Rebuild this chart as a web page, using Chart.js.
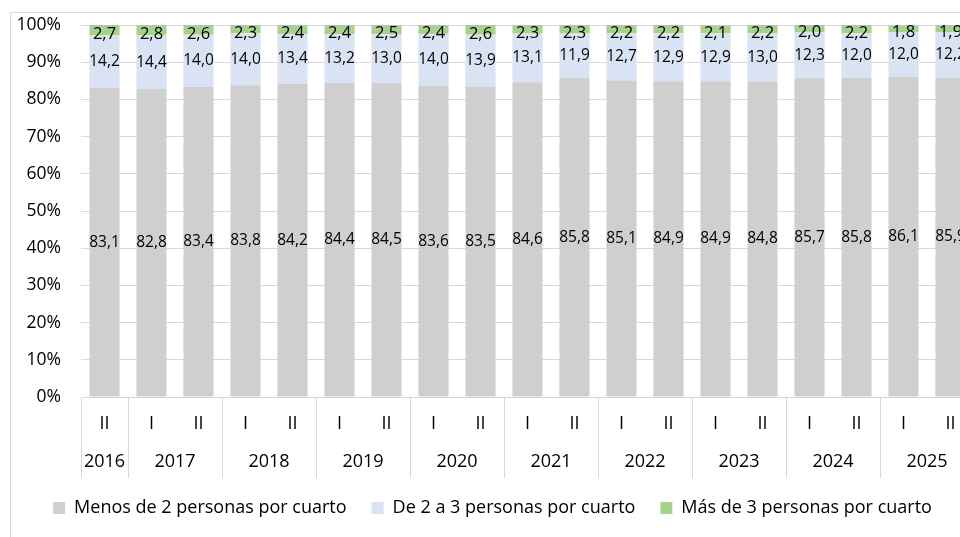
<!DOCTYPE html>
<html>
<head>
<meta charset="utf-8">
<script src="https://cdn.jsdelivr.net/npm/chart.js@4.4.1/dist/chart.umd.min.js"></script>
<style>
  html, body { margin: 0; padding: 0; background: #fff; overflow: hidden; }
  #wrap { position: absolute; left: 10px; top: 12px; width: 980px; height: 530px;
          border-left: 1px solid #d9d9d9; border-top: 1px solid #d9d9d9; }
</style>
</head>
<body>
<div id="wrap"><canvas id="chart1" width="980" height="530"></canvas></div>
<script>
var periods = ['II', 'I', 'II', 'I', 'II', 'I', 'II', 'I', 'II', 'I', 'II', 'I', 'II', 'I', 'II', 'I', 'II', 'I', 'II'];
var years = ['2016', '2017', '2017', '2018', '2018', '2019', '2019', '2020', '2020', '2021', '2021',
             '2022', '2022', '2023', '2023', '2024', '2024', '2025', '2025'];
var menos2 = [83.1, 82.8, 83.4, 83.8, 84.2, 84.4, 84.5, 83.6, 83.5, 84.6, 85.8, 85.1, 84.9, 84.9, 84.8, 85.7, 85.8, 86.1, 85.9];
var de2a3 = [14.2, 14.4, 14.0, 14.0, 13.4, 13.2, 13.0, 14.0, 13.9, 13.1, 11.9, 12.7, 12.9, 12.9, 13.0, 12.3, 12.0, 12.0, 12.2];
var mas3 = [2.7, 2.8, 2.6, 2.3, 2.4, 2.4, 2.5, 2.4, 2.6, 2.3, 2.3, 2.2, 2.2, 2.1, 2.2, 2.0, 2.2, 1.8, 1.9];

var FONT = '"Open Sans", sans-serif';
var GRID = '#d9d9d9';

// value labels in the middle of each segment (top segment is a bit larger and lower, like the original)
var segLabels = {
    id: 'segLabels',
    afterDatasetsDraw: function(chart) {
        var ctx = chart.ctx;
        ctx.save();
        ctx.fillStyle = '#000';
        ctx.textAlign = 'center';
        ctx.textBaseline = 'middle';
        chart.data.datasets.forEach(function(ds, di) {
            var isTop = di === chart.data.datasets.length - 1;
            ctx.font = (isTop ? '16.5px ' : '15.5px ') + FONT;
            chart.getDatasetMeta(di).data.forEach(function(bar, i) {
                var y = (bar.y + bar.base) / 2 + (isTop ? 4 : 0);
                ctx.fillText(ds.data[i].toFixed(1).replace('.', ','), bar.x, y);
            });
        });
        ctx.restore();
    }
};

// second row of x labels (years) and group dividers
var yearAxis = {
    id: 'yearAxis',
    afterDraw: function(chart) {
        var xs = chart.scales.x;
        var ctx = chart.ctx;
        var top = xs.top;
        var edges = [];
        var start = 0;
        ctx.save();
        ctx.font = '18px ' + FONT;
        ctx.fillStyle = '#000';
        ctx.textAlign = 'center';
        ctx.textBaseline = 'middle';
        for (var i = 1; i <= years.length; i++) {
            if (i === years.length || years[i] !== years[start]) {
                var l = start === 0 ? xs.left : (xs.getPixelForValue(start - 1) + xs.getPixelForValue(start)) / 2;
                var r = i === years.length ? xs.right : (xs.getPixelForValue(i - 1) + xs.getPixelForValue(i)) / 2;
                edges.push(l);
                if (i === years.length) edges.push(r);
                ctx.fillText(years[start], (l + r) / 2, top + 65);
                start = i;
            }
        }
        ctx.strokeStyle = GRID;
        ctx.lineWidth = 1;
        edges.forEach(function(x) {
            var px = Math.round(x) + 0.5;
            ctx.beginPath();
            ctx.moveTo(px, top);
            ctx.lineTo(px, top + 81);
            ctx.stroke();
        });
        ctx.restore();
    }
};

var ctx1 = document.getElementById('chart1').getContext('2d');
var chart1 = new Chart(ctx1, {
    type: 'bar',
    data: {
        labels: periods,
        datasets: [{
            label: 'Menos de 2 personas por cuarto',
            data: menos2,
            backgroundColor: '#d0cece'
        }, {
            label: 'De 2 a 3 personas por cuarto',
            data: de2a3,
            backgroundColor: '#dae3f3'
        }, {
            label: 'Más de 3 personas por cuarto',
            data: mas3,
            backgroundColor: '#a9d18e'
        }]
    },
    options: {
        responsive: false,
        animation: false,
        layout: { padding: { top: 12, left: 0, right: 17, bottom: 16 } },
        datasets: { bar: { barPercentage: 0.64, categoryPercentage: 1 } },
        scales: {
            x: {
                stacked: true,
                grid: { display: false },
                border: { display: true, color: GRID },
                ticks: { font: { family: FONT, size: 18 }, color: '#000', padding: 8, maxRotation: 0, autoSkip: false },
                afterFit: function(scale) { scale.height = 77; }
            },
            y: {
                stacked: true,
                min: 0,
                max: 100,
                grid: { color: GRID, drawTicks: false },
                border: { display: false },
                ticks: {
                    stepSize: 10,
                    font: { family: FONT, size: 17.5 },
                    color: '#000',
                    padding: 20,
                    callback: function(v) { return v + '%'; }
                },
                afterFit: function(scale) {
                    scale.width = 70;
                    scale.paddingTop = 0;
                    scale.paddingBottom = 0;
                }
            }
        },
        plugins: {
            legend: {
                position: 'bottom',
                labels: { boxWidth: 12, boxHeight: 12, padding: 25, color: '#000', font: { family: FONT, size: 18 } }
            },
            tooltip: { enabled: false }
        }
    },
    plugins: [segLabels, yearAxis]
});
</script>
</body>
</html>
